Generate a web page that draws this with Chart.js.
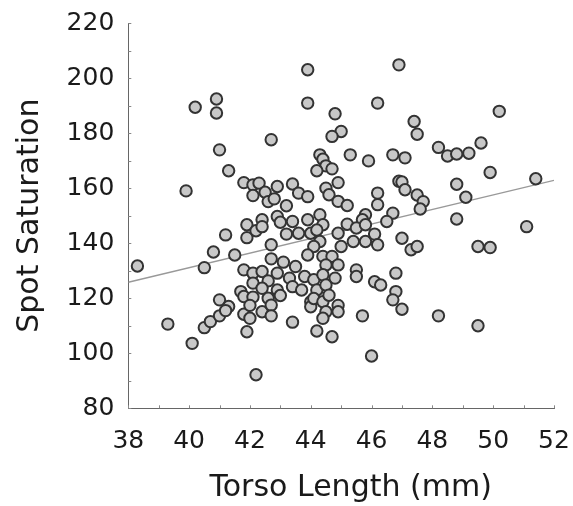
<!DOCTYPE html>
<html>
<head>
<meta charset="utf-8">
<script src="https://cdn.jsdelivr.net/npm/chart.js@4.4.0/dist/chart.umd.min.js"></script>
<style>
  html, body { margin: 0; padding: 0; background: #fff; }
  #wrap { width: 573px; height: 506px; }
</style>
</head>
<body>
<div id="wrap"><canvas id="torsoChart" width="573" height="506"></canvas></div>
<script>
// Valori (lunghezza torso in mm, saturazione macchie)
const torsoLength = [
  40.2, 40.9, 40.9, 42.7, 41.0, 41.3, 41.8, 42.1, 42.3, 39.9, 42.9, 43.9, 46.9, 43.9, 46.2,
  44.8, 45.0, 44.7, 47.4, 47.5, 44.3, 44.4, 45.3, 45.9, 46.7, 47.1, 44.5, 44.7, 44.2, 44.9,
  43.4, 44.5, 46.9, 47.0, 47.1, 46.2, 50.2, 48.2, 48.5, 48.8, 49.2, 49.6, 49.9, 51.4, 48.8,
  38.3, 40.5, 40.8, 41.5, 41.2, 41.0,
  42.5, 42.1, 42.6, 42.8, 43.6, 43.9, 43.2, 41.9, 41.9, 42.2, 42.4, 42.4, 42.9, 43.0, 43.4,
  43.9, 43.6, 43.2, 44.0, 44.3, 44.4, 44.2, 42.7, 44.3, 44.1, 43.9, 42.7, 43.1, 43.5, 41.8,
  42.1, 42.4, 42.6, 42.9, 43.3, 43.8, 44.1, 42.1, 42.4, 42.9, 43.4, 43.7, 44.2, 41.7, 41.8,
  42.1, 42.6,
  44.6, 44.9, 45.2, 46.2, 46.7, 46.5, 45.8, 45.7, 45.2, 45.5, 45.8, 44.9, 46.1, 45.8, 46.2,
  45.4, 45.0, 47.0, 47.3, 44.4, 44.7, 44.5, 44.9, 45.5, 45.5, 44.4, 44.8, 46.8, 44.5, 46.1,
  46.3, 46.8,
  49.1, 47.5, 47.7, 47.6, 48.8, 51.1, 47.5, 49.5, 49.9, 46.7,
  39.3, 40.1, 40.5, 40.7, 41.0, 41.3, 41.2, 41.8, 42.0, 41.9, 42.2, 42.4, 42.7, 42.7, 42.0,
  43.0, 43.4, 44.0, 44.0, 44.1, 44.4, 44.6, 44.5, 44.4, 44.9, 44.9, 44.2, 44.7, 45.7, 46.0,
  47.0, 48.2, 49.5
];
const spotSaturation = [
  189.4, 192.4, 187.3, 177.6, 173.9, 166.3, 162.0, 161.2, 161.8, 159.0, 160.6, 203.0, 204.8, 190.9, 190.9,
  187.0, 180.6, 178.8, 184.2, 179.6, 172.1, 170.5, 172.1, 169.9, 172.1, 171.0, 168.1, 167.0, 166.3, 162.0,
  161.5, 160.0, 162.5, 162.2, 159.4, 158.2, 187.9, 174.8, 171.7, 172.4, 172.7, 176.4, 165.7, 163.4, 161.4,
  131.7, 131.1, 136.8, 135.7, 143.0, 119.4,
  158.5, 157.3, 155.1, 156.1, 158.2, 156.9, 153.6, 146.7, 142.0, 144.5, 148.5, 146.0, 149.7, 147.6, 147.9,
  148.5, 143.6, 143.3, 143.6, 150.3, 146.7, 144.8, 139.4, 140.6, 138.8, 135.7, 134.3, 133.1, 131.5, 130.3,
  129.1, 129.7, 126.3, 129.1, 127.3, 127.9, 126.7, 125.5, 123.6, 123.0, 124.2, 123.0, 123.0, 122.4, 120.6,
  120.4, 120.0,
  157.6, 155.2, 153.7, 154.0, 150.9, 147.9, 150.3, 148.5, 146.9, 145.5, 146.7, 143.6, 143.3, 140.6, 139.4,
  140.6, 138.8, 141.8, 137.6, 135.2, 135.2, 132.1, 132.1, 130.3, 127.9, 128.5, 127.3, 129.1, 124.8, 126.0,
  124.8, 122.4,
  156.7, 157.5, 155.1, 152.4, 148.8, 146.0, 138.8, 138.8, 138.4, 119.4,
  110.6, 103.6, 109.3, 111.5, 113.6, 117.0, 115.5, 114.2, 112.7, 107.8, 92.2, 115.1, 117.5, 113.6, 117.4,
  121.0, 111.3, 118.7, 116.9, 119.9, 118.7, 121.1, 115.1, 112.7, 117.4, 115.1, 108.1, 106.0, 113.6, 99.0,
  116.0, 113.6, 110.0
];

// Retta di regressione (estremi)
const fitX = [38, 52];
const fitY = [125.8, 162.8];

// Etichette degli assi
const xTicks = [38, 40, 42, 44, 46, 48, 50, 52];
const yTicks = [80, 100, 120, 140, 160, 180, 200, 220];

const points = torsoLength.map((x, i) => ({ x: x, y: spotSaturation[i] }));
const fitLine = fitX.map((x, i) => ({ x: x, y: fitY[i] }));

// Piccole tacche interne sugli assi
const minorTicks = {
    id: 'minorTicks',
    afterDraw(chart) {
        const { ctx, scales: { x, y } } = chart;
        ctx.save();
        ctx.strokeStyle = '#888';
        ctx.lineWidth = 1;
        ctx.beginPath();
        for (let v = 38; v <= 52; v++) {
            const px = Math.round(x.getPixelForValue(v)) + 0.5;
            ctx.moveTo(px, y.bottom);
            ctx.lineTo(px, y.bottom - 3);
        }
        for (let v = 80; v <= 220; v += 10) {
            const py = Math.round(y.getPixelForValue(v)) + 0.5;
            ctx.moveTo(x.left, py);
            ctx.lineTo(x.left + 3, py);
        }
        ctx.stroke();
        ctx.restore();
    }
};

const tickFont = { family: 'DejaVu Sans', size: 25 };
const titleFont = { family: 'DejaVu Sans', size: 30 };

new Chart(document.getElementById('torsoChart'), {
    type: 'scatter',
    data: {
        datasets: [{
            label: 'Birds',
            data: points,
            backgroundColor: '#c8c8c8',
            borderColor: '#333333',
            borderWidth: 2,
            pointRadius: 5.7,
            order: 1
        }, {
            label: 'Fit',
            type: 'line',
            data: fitLine,
            showLine: true,
            fill: false,
            borderColor: '#999999',
            borderWidth: 1.3,
            pointRadius: 0,
            order: 2
        }]
    },
    options: {
        responsive: false,
        animation: false,
        layout: { padding: { left: 0, right: 19, top: 23, bottom: 0 } },
        plugins: {
            legend: { display: false },
            tooltip: { enabled: false }
        },
        scales: {
            x: {
                type: 'linear',
                min: 38,
                max: 52,
                afterBuildTicks: s => { s.ticks = xTicks.map(v => ({ value: v })); },
                afterFit: s => { s.height = 97.7; s.paddingLeft = 0; s.paddingRight = 0; },
                grid: { display: false },
                border: { display: true, color: '#666', width: 1 },
                ticks: { color: '#1a1a1a', font: tickFont, padding: 10, maxRotation: 0 },
                title: {
                    display: true,
                    text: '  Torso Length (mm)',
                    color: '#1a1a1a',
                    font: titleFont,
                    padding: { top: 0, bottom: 0 }
                }
            },
            y: {
                type: 'linear',
                min: 80,
                max: 220,
                afterBuildTicks: s => { s.ticks = yTicks.map(v => ({ value: v })); },
                afterFit: s => { s.width = 128.3; s.paddingTop = 0; s.paddingBottom = 0; },
                grid: { display: false },
                border: { display: true, color: '#666', width: 1 },
                ticks: { color: '#1a1a1a', font: tickFont, padding: 6 },
                title: {
                    display: true,
                    text: 'Spot Saturation',
                    color: '#1a1a1a',
                    font: titleFont,
                    padding: { top: 12, bottom: 0 }
                }
            }
        }
    },
    plugins: [minorTicks]
});
</script>
</body>
</html>
